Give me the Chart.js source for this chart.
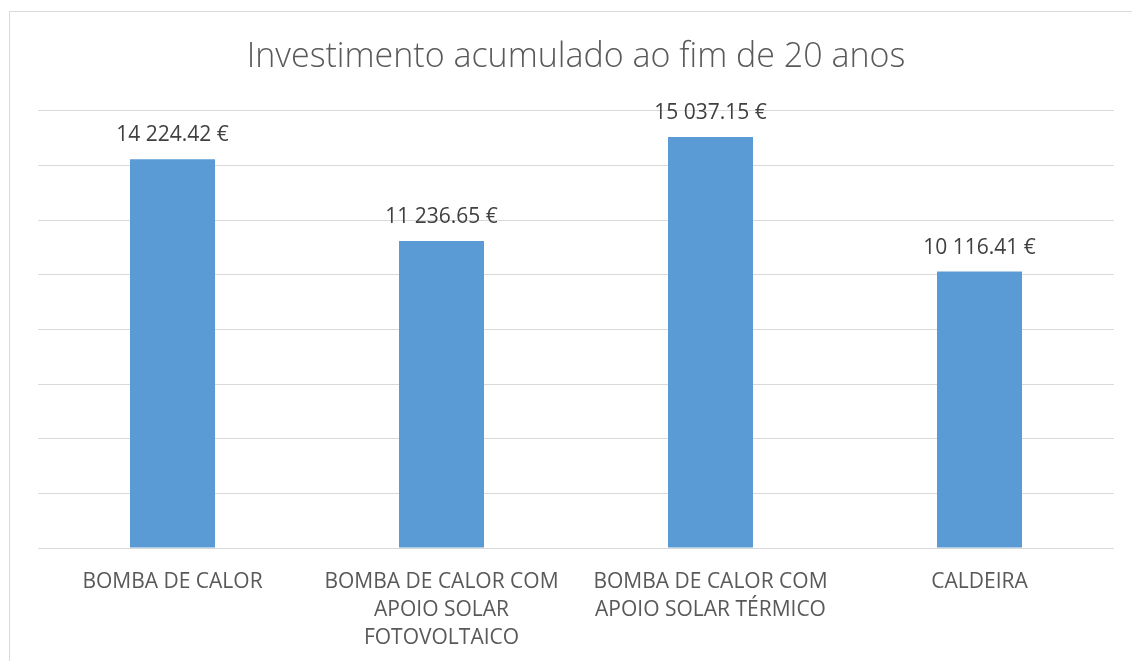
<!DOCTYPE html>
<html>
<head>
<meta charset="utf-8">
<script src="https://cdn.jsdelivr.net/npm/chart.js@4.4.1/dist/chart.umd.min.js"></script>
<style>
  html, body { margin: 0; padding: 0; background: #ffffff; }
  #wrap { position: relative; width: 1132px; height: 661px; overflow: hidden; }
  #frame { position: absolute; left: 9px; top: 11px; width: 1200px; height: 700px;
           border-left: 1px solid #d9d9d9; border-top: 1px solid #d9d9d9; }
  canvas { position: absolute; left: 0; top: 0; }
</style>
</head>
<body>
<div id="wrap">
  <div id="frame"></div>
  <canvas id="chart" width="1132" height="661"></canvas>
</div>
<script>
const chartTitle = 'Investimento acumulado ao fim de 20 anos';
const categories = [
  ['BOMBA DE CALOR'],
  ['BOMBA DE CALOR COM', 'APOIO SOLAR', 'FOTOVOLTAICO'],
  ['BOMBA DE CALOR COM', 'APOIO SOLAR TÉRMICO'],
  ['CALDEIRA']
];
const values = [14224.42, 11236.65, 15037.15, 10116.41];
const yMax = 16000;
const yStep = 2000;

const FONT = "'Open Sans', 'DejaVu Sans', sans-serif";

function euro(v) {
  const parts = v.toFixed(2).split('.');
  const intPart = parts[0].replace(/\B(?=(\d{3})+(?!\d))/g, ' ');
  return intPart + '.' + parts[1] + ' €';
}

// Writes each bar's value just above it
const valueLabels = {
  id: 'valueLabels',
  afterDatasetsDraw(chart) {
    const ctx = chart.ctx;
    const meta = chart.getDatasetMeta(0);
    ctx.save();
    ctx.font = '21px ' + FONT;
    ctx.fillStyle = '#404040';
    ctx.textAlign = 'center';
    ctx.textBaseline = 'middle';
    meta.data.forEach((bar, i) => {
      ctx.fillText(euro(values[i]), bar.x, bar.y - 24);
    });
    ctx.restore();
  }
};

new Chart(document.getElementById('chart'), {
  type: 'bar',
  data: {
    labels: categories,
    datasets: [{
      data: values,
      backgroundColor: '#5b9bd5',
      borderWidth: 0,
      categoryPercentage: 1,
      barPercentage: 0.316
    }]
  },
  options: {
    responsive: false,
    animation: false,
    layout: { padding: { left: 38, right: 18, top: 37, bottom: 0 } },
    plugins: {
      legend: { display: false },
      tooltip: { enabled: false },
      title: {
        display: true,
        text: chartTitle,
        color: '#595959',
        font: { family: FONT, size: 34, weight: 300, lineHeight: 1.2 },
        padding: { top: 0, bottom: 33 }
      }
    },
    scales: {
      x: {
        grid: { display: false },
        border: { display: false },
        ticks: {
          color: '#595959',
          font: { family: FONT, size: 21, lineHeight: 1.333 },
          padding: 12,
          maxRotation: 0,
          autoSkip: false
        },
        afterFit(scale) { scale.height = 113; }
      },
      y: {
        min: 0,
        max: yMax,
        ticks: { display: false, stepSize: yStep },
        grid: { color: '#d9d9d9', lineWidth: 1, drawTicks: false },
        border: { display: false }
      }
    }
  },
  plugins: [valueLabels]
});
</script>
</body>
</html>
